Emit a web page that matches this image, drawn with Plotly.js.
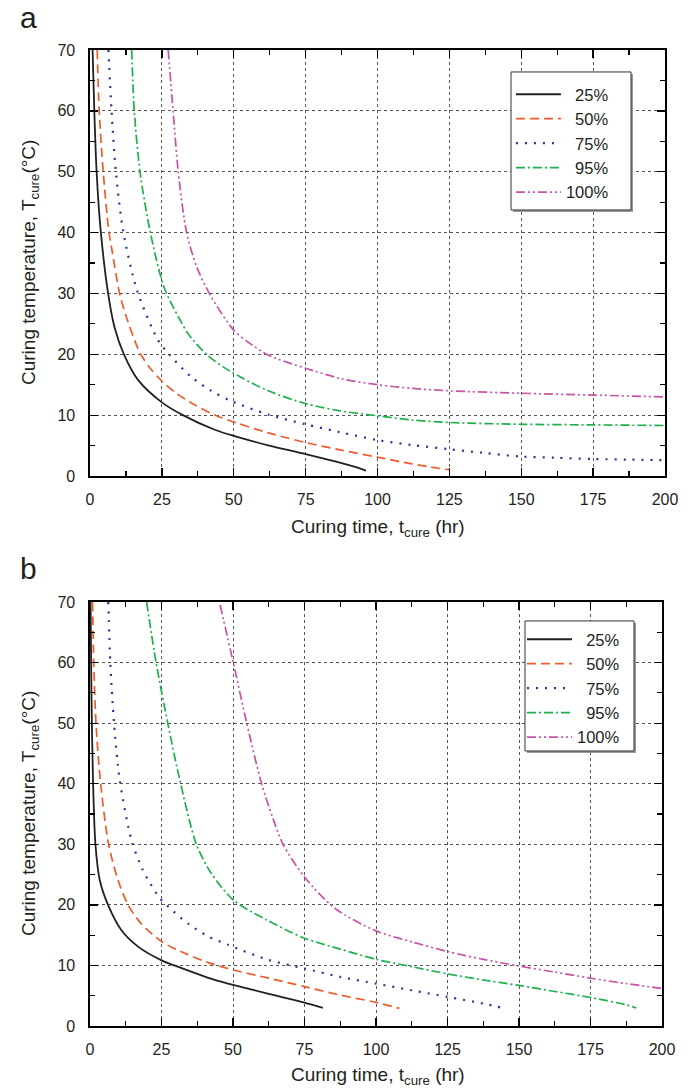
<!DOCTYPE html>
<html>
<head>
<meta charset="utf-8">
<script src="https://cdn.plot.ly/plotly-3.0.1.min.js"></script>
<style>html,body{margin:0;padding:0;background:#fff;}#chart{width:695px;height:1090px;}</style>
</head>
<body>
<div id="chart"></div>
<script>
// ---------- Data ----------
const seriesNames = ["25%", "50%", "75%", "95%", "100%"];

// Panel a : curing time (hr) vs curing temperature (°C)
const a25_t = [0.9, 1.5, 2.3, 3.7, 6.3, 8.5, 11.8, 16.7, 25, 32.3, 43.4, 50, 62, 75, 91.3, 96];
const a25_T = [70, 60, 50, 40.4, 30, 24.5, 20, 15.8, 12.1, 10, 7.6, 6.6, 5.05, 3.6, 1.64, 0.9];
const a50_t = [2.5, 3.2, 4.6, 6.5, 7.65, 10.3, 12.6, 17.3, 20.8, 25, 30, 36.4, 41.6, 48, 62, 75, 87, 100, 112, 125];
const a50_T = [70, 60, 50, 40.4, 37.1, 30, 26.2, 20.3, 17.8, 15.6, 13.6, 11.7, 10.4, 9.2, 7.1, 5.5, 4.3, 3.1, 2.0, 1.0];
const a75_t = [6.4, 7.5, 9, 11.5, 16.3, 23.7, 27.5, 35.2, 42.2, 49.2, 62, 75, 87, 100, 112, 125, 137, 150, 162, 175, 187, 200];
const a75_T = [70, 60, 50, 40.4, 30.6, 22.3, 20, 16.3, 14, 12.3, 10.1, 8.5, 7.2, 5.9, 5.1, 4.4, 3.8, 3.2, 3.0, 2.8, 2.7, 2.6];
const a95_t = [14.5, 15.4, 17.4, 20.9, 25.7, 30.8, 34.1, 40.5, 48.1, 62, 75, 87, 100, 112, 125, 150, 175, 200];
const a95_T = [70, 60, 50, 40.2, 31.1, 26.1, 23.4, 20, 17.4, 14.0, 11.9, 10.7, 9.9, 9.2, 8.8, 8.5, 8.4, 8.3];
const a100_t = [27.2, 28.9, 30.7, 33.6, 37.1, 41.5, 49.9, 55, 61.4, 64.9, 75, 87.3, 100, 112, 125, 150, 175, 200];
const a100_T = [70, 60, 50, 40, 34.4, 30, 24, 22, 20, 19.3, 17.7, 16.0, 15.0, 14.4, 14.0, 13.6, 13.3, 13.0];

// Panel b
const b25_t = [0.2, 0.5, 1.05, 1.9, 3.4, 6.3, 11, 16.8, 25.2, 29.5, 43.6, 50, 62.5, 75, 81.4];
const b25_T = [70, 55, 40.6, 30, 24.1, 20, 15.8, 13.1, 10.8, 10.0, 7.6, 6.8, 5.3, 3.85, 3.0];
const b50_t = [0.9, 1.3, 2.1, 3.6, 6.5, 9.8, 13.3, 17.9, 25.2, 33.1, 42.4, 50.6, 62.5, 75, 87.5, 100, 108.2];
const b50_T = [70, 60, 50, 40.6, 30, 24.1, 20, 16.9, 13.9, 12.0, 10.3, 9.2, 7.9, 6.5, 5.1, 3.9, 2.9];
const b75_t = [6.4, 7.1, 8.4, 10.4, 14.5, 18.5, 24.4, 27.6, 34.3, 41.3, 48.3, 62.5, 75, 87.5, 100, 112.5, 125, 137.5, 144];
const b75_T = [70, 60, 50, 40.6, 30.7, 25.7, 21.1, 19.6, 16.9, 14.8, 13.4, 10.9, 9.5, 8.1, 7.0, 5.9, 4.8, 3.7, 3.0];
const b95_t = [19.8, 23.1, 27.2, 31.4, 37.2, 42.4, 50.1, 61.8, 75, 87.5, 100, 112.5, 125, 137.5, 150, 162.5, 175, 187.5, 191];
const b95_T = [70, 60, 50, 40.6, 30, 25.2, 20.8, 17.5, 14.5, 12.7, 11.0, 9.8, 8.6, 7.6, 6.7, 5.7, 4.7, 3.5, 3.0];
const b100_t = [45.5, 50.1, 54.8, 60, 63.8, 67.5, 75, 85.7, 100, 112.5, 125, 137.5, 150, 162.5, 175, 187.5, 200];
const b100_T = [69.5, 60, 50, 40, 34.5, 30, 24.6, 19.4, 15.7, 13.9, 12.3, 11.0, 9.9, 8.9, 7.9, 7.0, 6.2];

// ---------- Styles ----------
const colors = ["#231f20", "#f15a29", "#2e3192", "#1db04b", "#c852a6"];
const dashes = ["solid", "9px,5px", "2px,7px", "9px,3px,2px,3px", "9px,3px,2px,3px,2px,3px"];
const widths = [1.8, 1.7, 2.2, 1.7, 1.7];
const labels = seriesNames.map(s => s.length < 4 ? "\u00a0\u00a0" + s : s);

const panelA = [[a25_t, a25_T], [a50_t, a50_T], [a75_t, a75_T], [a95_t, a95_T], [a100_t, a100_T]];
const panelB = [[b25_t, b25_T], [b50_t, b50_T], [b75_t, b75_T], [b95_t, b95_T], [b100_t, b100_T]];

const traces = [];
panelA.forEach((d, i) => traces.push({
  x: d[0], y: d[1], xaxis: 'x', yaxis: 'y', type: 'scatter', mode: 'lines', name: labels[i],
  line: {color: colors[i], width: widths[i], dash: dashes[i], shape: 'spline', smoothing: 0.8},
  legend: 'legend', hoverinfo: 'skip'
}));
panelB.forEach((d, i) => traces.push({
  x: d[0], y: d[1], xaxis: 'x2', yaxis: 'y2', type: 'scatter', mode: 'lines', name: labels[i],
  line: {color: colors[i], width: widths[i], dash: dashes[i], shape: 'spline', smoothing: 0.8},
  legend: 'legend2', hoverinfo: 'skip'
}));

const common = {
  showline: true, linecolor: '#000', linewidth: 1.6, mirror: 'allticks',
  ticks: 'inside', ticklen: 8, tickwidth: 1.3, tickcolor: '#000',
  showgrid: true, gridcolor: '#555', gridwidth: 1, griddash: '3px,3px',
  zeroline: false, fixedrange: true,
  tickfont: {size: 16, color: '#231f20'}
};
const xax = (dom, anchor) => Object.assign({}, common, {
  domain: dom, anchor: anchor, range: [0, 200], tick0: 0, dtick: 25, ticklabelstandoff: 8,
  minor: {dtick: 12.5, tick0: 0, ticks: 'inside', ticklen: 5, tickwidth: 1.2, tickcolor: '#000', showgrid: false}
});
const yax = (dom, anchor) => Object.assign({}, common, {
  domain: dom, anchor: anchor, range: [0, 70], tick0: 0, dtick: 10, ticklabelstandoff: 10,
  minor: {dtick: 5, tick0: 0, ticks: 'inside', ticklen: 5, tickwidth: 1.2, tickcolor: '#000', showgrid: false}
});

const legendBase = {
  bgcolor: 'rgba(0,0,0,0)', borderwidth: 0,
  font: {size: 16.5, color: '#231f20'}, xanchor: 'left', yanchor: 'top', itemwidth: 45,
  tracegroupgap: 0
};

// legend boxes (with a soft shadow), in paper coordinates
const boxA = [0.7322, 0.9409, 0.8361, 0.9775];
const boxB = [0.7565, 0.9461, 0.2818, 0.4150];
const sdx = 0.0035, sdy = 0.0021;
const boxShapes = [];
[boxA, boxB].forEach(b => {
  boxShapes.push({type: 'rect', xref: 'paper', yref: 'paper', x0: b[0] + sdx, x1: b[1] + sdx, y0: b[2] - sdy, y1: b[3] - sdy,
    fillcolor: '#9a9a9a', line: {width: 0}, layer: 'above'});
  boxShapes.push({type: 'rect', xref: 'paper', yref: 'paper', x0: b[0], x1: b[1], y0: b[2], y1: b[3],
    fillcolor: '#ffffff', line: {color: '#333', width: 1}, layer: 'above'});
});

const titleFont = {size: 19, color: '#231f20'};
const annotations = [
  {text: 'a', x: -0.125, y: 1.033, xref: 'paper', yref: 'paper', xanchor: 'left', yanchor: 'middle', showarrow: false, font: {size: 30, color: '#231f20'}},
  {text: 'b', x: -0.125, y: 0.469, xref: 'paper', yref: 'paper', xanchor: 'left', yanchor: 'middle', showarrow: false, font: {size: 30, color: '#231f20'}},
  {text: 'Curing time, t<sub>cure</sub> (hr)', x: 0.5, y: 0.5102, xref: 'paper', yref: 'paper', xanchor: 'center', yanchor: 'middle', showarrow: false, font: titleFont},
  {text: 'Curing time, t<sub>cure</sub> (hr)', x: 0.5, y: -0.0512, xref: 'paper', yref: 'paper', xanchor: 'center', yanchor: 'middle', showarrow: false, font: titleFont},
  {text: 'Curing temperature, T<sub>cure</sub>(°C)', x: -0.1043, y: 0.7818, xref: 'paper', yref: 'paper', xanchor: 'center', yanchor: 'middle', textangle: -90, showarrow: false, font: titleFont},
  {text: 'Curing temperature, T<sub>cure</sub>(°C)', x: -0.1043, y: 0.2172, xref: 'paper', yref: 'paper', xanchor: 'center', yanchor: 'middle', textangle: -90, showarrow: false, font: titleFont}
];

const layout = {
  width: 695, height: 1090,
  margin: {l: 90, r: 30, t: 50, b: 64},
  paper_bgcolor: '#fff', plot_bgcolor: '#fff',
  font: {family: 'Liberation Sans, Arial, sans-serif', color: '#231f20', size: 16},
  xaxis: xax([0, 1], 'y'),
  yaxis: yax([0.5635, 1], 'x'),
  xaxis2: xax([0, 0.9948], 'y2'),
  yaxis2: yax([0, 0.4344], 'x2'),
  legend: Object.assign({}, legendBase, {x: 0.732, y: 0.9723}),
  legend2: Object.assign({}, legendBase, {x: 0.7513, y: 0.4139}),
  shapes: boxShapes,
  annotations: annotations,
  showlegend: true
};

Plotly.newPlot('chart', traces, layout, {displayModeBar: false, staticPlot: true});
</script>
</body>
</html>
